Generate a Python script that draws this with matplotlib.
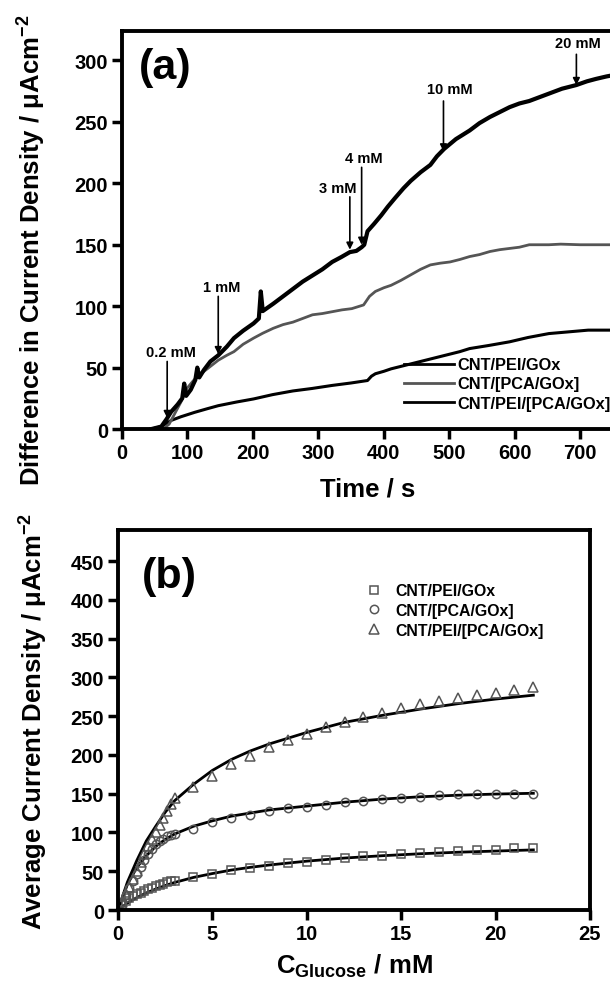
import numpy as np
import matplotlib
matplotlib.use("Agg")
import matplotlib.pyplot as plt

plt.rcParams['font.family'] = ['Liberation Sans', 'DejaVu Sans']
plt.rcParams['font.weight'] = 'bold'
plt.rcParams['mathtext.fontset'] = 'custom'
plt.rcParams['mathtext.rm'] = 'Liberation Sans:bold'
plt.rcParams['mathtext.it'] = 'Liberation Sans:bold'
plt.rcParams['mathtext.bf'] = 'Liberation Sans:bold'
plt.rcParams['mathtext.default'] = 'rm'

labels = ['CNT/PEI/GOx', 'CNT/[PCA/GOx]', 'CNT/PEI/[PCA/GOx]']

# (a) chronoamperometry
t_pei = [45, 60, 75, 90, 111, 130, 147, 175, 201, 230, 261, 290, 321, 350, 375, 381, 387,
         400, 411, 426, 441, 456, 471, 486, 501, 516, 531, 560, 592, 620, 652, 680, 712, 750]
j_pei = [0, 2, 7, 10, 13.6, 16.5, 19, 22, 24.5, 28, 31, 33, 35.5, 37.5, 39.5, 43, 45,
         47, 49, 51, 53, 55, 57, 59, 61, 63, 65.5, 68, 71, 74.5, 77.7, 79, 80.5, 80.5]

t_pca = [50, 65, 72, 80, 90, 99, 110, 123, 135, 147, 160, 171, 185, 201, 215, 231, 246, 261,
         276, 291, 306, 321, 336, 351, 369, 378, 387, 400, 411, 426, 441, 456, 471, 486, 501,
         516, 531, 546, 562, 577, 592, 607, 622, 637, 652, 670, 700, 750]
j_pca = [0, 1, 4, 12, 22, 33, 40, 46, 51, 56, 60, 63, 69, 74, 78, 82, 85, 87,
         90, 93, 94, 95.5, 97, 98, 101, 108, 112, 115, 117, 121, 125.5, 130, 133.6, 135, 136,
         138, 140.4, 142, 144.5, 146, 147, 148, 150, 150, 150, 150.5, 150, 150]

t_both = [45, 60, 68, 75, 85, 92, 95, 98, 105, 112, 115, 118, 125, 135, 147, 160, 171, 185,
          201, 209, 212, 215, 231, 246, 261, 276, 291, 306, 321, 335, 348, 358, 366, 370, 375,
          385, 396, 406, 417, 430, 441, 456, 471, 481, 492, 510, 531, 546, 562, 577, 592, 607,
          622, 637, 652, 672, 694, 710, 724, 740, 750]
j_both = [0, 2, 8, 14, 20, 25, 37, 27, 32, 40, 50, 42, 48, 55, 60, 67, 74, 80,
          86, 90, 112, 96, 102, 108, 114, 120, 125, 130, 136, 140, 144, 145, 148, 150, 161,
          167, 174, 181, 188, 196, 202, 209, 215, 222, 228, 236, 243, 249, 254, 258, 262, 265,
          267, 270, 273, 277, 280, 283, 285, 287, 288]

# glucose additions marked in (a)
add_lbl = ['0.2 mM', '1 mM', '3 mM', '4 mM', '10 mM', '20 mM']
add_t = [69, 147, 348, 366, 491, 694]
add_tip = [9, 61, 146, 150, 226, 280]
add_tail = [55, 108, 189, 213, 267, 305]
lbl_t = [74, 153, 330, 369, 501, 697]
lbl_y = [63, 116, 196, 221, 277, 314]

# (b) calibration points
c_pts = [0.2, 0.4, 0.6, 0.8, 1.0, 1.2, 1.4, 1.6, 1.8, 2.0, 2.2, 2.4, 2.6, 2.8, 3,
         4, 5, 6, 7, 8, 9, 10, 11, 12, 13, 14, 15, 16, 17, 18, 19, 20, 21, 22]
sq_pts = [6, 12, 15, 18, 20, 22.5, 25, 26.5, 28.5, 30.5, 32, 34, 35.5, 37, 37,
          42, 47, 51, 54, 57, 60, 62, 64, 66.6, 69, 69, 72, 73, 75, 76, 78, 78, 79.5, 80]
ci_pts = [10, 19, 28, 37, 46, 55, 64, 72, 79, 85, 89, 92, 95, 97, 98,
          105, 113.5, 118, 123, 128, 131, 133, 136, 139, 141, 143, 144, 146, 148, 150, 150, 150, 150, 150]
tr_pts = [10, 20, 30, 40, 50, 62, 72, 82, 92, 101, 110, 119, 128, 137, 145,
          158, 173, 188, 199, 210, 219, 227, 236, 243, 249, 254, 260, 266, 269, 274, 277, 280, 284, 287]

# (b) fitted curves
c_fit = [0, 0.5, 1, 1.5, 2, 2.5, 3, 4, 5, 6, 7, 8, 10, 12, 14, 16, 18, 20, 22]
sq_fit = [0, 9, 16, 22, 27, 31.5, 35.5, 42, 47, 51.5, 55, 58, 63, 67, 70, 72.5, 74.5, 76, 77.5]
ci_fit = [0, 33, 55, 70, 82, 91, 98, 108, 115, 121, 125, 129, 134, 139, 143, 146, 148, 149.5, 150.5]
tr_fit = [0, 36, 64, 89, 108, 126, 141, 162, 180, 194, 205, 214, 229, 242, 251, 259, 266, 272, 277]

fig = plt.figure(figsize=(6.1, 9.87), dpi=100)

def style(ax):
    for s in ax.spines.values():
        s.set_linewidth(2.8)
    ax.tick_params(direction='out', length=7, width=2.5, labelsize=14.5, pad=3)
    ax.tick_params(top=False, right=False)
    for lab in ax.get_xticklabels() + ax.get_yticklabels():
        lab.set_fontweight('bold')

# ---- (a)
ax1 = fig.add_axes([0.2, 0.5643, 0.805, 0.4033])
ax1.plot(t_pei, j_pei, color='black', lw=2.2, label=labels[0])
ax1.plot(t_pca, j_pca, color='#555555', lw=2.0, label=labels[1])
ax1.plot(t_both, j_both, color='black', lw=3.0, label=labels[2])
for i in range(len(add_t)):
    ax1.annotate('', xy=(add_t[i], add_tip[i]), xytext=(add_t[i], add_tail[i]),
                 arrowprops=dict(arrowstyle='-|>', color='black', lw=1.2, mutation_scale=10, shrinkA=0, shrinkB=0))
    ax1.text(lbl_t[i], lbl_y[i], add_lbl[i], fontsize=10.5, ha='center', va='center')
ax1.set_xlim(0, 750)
ax1.set_ylim(0, 324)
ax1.set_xticks(np.arange(0, 701, 100))
ax1.set_yticks(np.arange(0, 301, 50))
style(ax1)
ax1.set_xlabel('Time / s', fontsize=18.5, fontweight='bold')
ax1.set_ylabel('Difference in Current Density / μAcm$^{-2}$', fontsize=18.5, fontweight='bold')
ax1.xaxis.set_label_coords(0.5, -0.12)
ax1.yaxis.set_label_coords(-0.15, 0.452)
ax1.text(0.035, 0.91, '(a)', transform=ax1.transAxes, fontsize=31, fontweight='bold', va='center')
leg1 = ax1.legend(loc='upper left', bbox_to_anchor=(0.575, 0.18), frameon=False, fontsize=11.8,
                  handlelength=3.0, handletextpad=0.25, labelspacing=0.25, borderpad=0, borderaxespad=0)
for h in leg1.get_lines():
    h.set_linewidth(2.0)

# ---- (b)
ax2 = fig.add_axes([0.1934, 0.077, 0.7738, 0.385])
ax2.plot(c_fit, sq_fit, color='black', lw=2.0)
ax2.plot(c_fit, ci_fit, color='black', lw=2.0)
ax2.plot(c_fit, tr_fit, color='black', lw=2.0)
ax2.plot(c_pts, sq_pts, ls='none', marker='s', ms=5.5, mfc='none', mec='#555555', mew=1.1, label=labels[0])
ax2.plot(c_pts, ci_pts, ls='none', marker='o', ms=6, mfc='none', mec='#555555', mew=1.1, label=labels[1])
ax2.plot(c_pts, tr_pts, ls='none', marker='^', ms=7, mfc='none', mec='#555555', mew=1.1, label=labels[2])
ax2.set_xlim(0, 25)
ax2.set_ylim(0, 490)
ax2.set_xticks(np.arange(0, 26, 5))
ax2.set_yticks(np.arange(0, 451, 50))
style(ax2)
ax2.set_xlabel('C$_{Glucose}$ / mM', fontsize=18.5, fontweight='bold')
ax2.set_ylabel('Average Current Density / μAcm$^{-2}$', fontsize=18.5, fontweight='bold')
ax2.xaxis.set_label_coords(0.5, -0.11)
ax2.yaxis.set_label_coords(-0.144, 0.5)
ax2.text(0.05, 0.88, '(b)', transform=ax2.transAxes, fontsize=31, fontweight='bold', va='center')
ax2.legend(loc='upper left', bbox_to_anchor=(0.525, 0.86), frameon=False, fontsize=11.4,
           handlelength=1.0, handletextpad=0.9, labelspacing=0.3, borderpad=0, borderaxespad=0)

fig.savefig('out.png', dpi=100)
